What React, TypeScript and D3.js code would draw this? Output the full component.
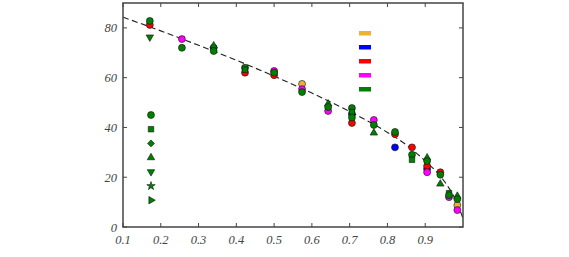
import * as d3 from "d3";

const xTicks = [0.1, 0.2, 0.3, 0.4, 0.5, 0.6, 0.7, 0.8, 0.9];
const yTicks = [0, 20, 40, 60, 80];

// dashed reference curve
const curve: [number, number][] = [
  [0.1, 84.3], [0.2, 78.8], [0.3, 73], [0.4, 67], [0.5, 60.6], [0.6, 53.8],
  [0.7, 46.4], [0.8, 38], [0.85, 33], [0.9, 26.5], [0.95, 18.5], [0.98, 11], [1.0, 3.5],
];

// [x, y, marker]  marker: 0 circle, 1 square, 2 diamond, 3 tri up, 4 tri down, 5 star, 6 tri right
const orangePts: [number, number, number][] = [
  [0.574, 57.5], [0.985, 8.8],
].map(([x, y]) => [x, y, 0]);
const bluePts: [number, number, number][] = [
  [0.34, 72], [0.706, 45.4], [0.82, 32], [0.905, 23.3],
].map(([x, y]) => [x, y, 0]);
const redPts: [number, number, number][] = [
  [0.171, 81.2], [0.423, 62], [0.5, 61], [0.706, 41.8], [0.82, 37.3],
  [0.865, 32], [0.905, 24.5], [0.94, 22],
].map(([x, y]) => [x, y, 0]);
const magentaPts: [number, number, number][] = [
  [0.256, 75.5], [0.5, 62.7], [0.574, 55.4], [0.643, 46.6], [0.764, 43],
  [0.905, 22], [0.963, 12], [0.985, 6.8],
].map(([x, y]) => [x, y, 0]);
const greenPts: [number, number, number][] = [
  [0.171, 82.8, 0], [0.171, 76.3, 4], [0.256, 72, 0], [0.34, 72.8, 3], [0.34, 70.7, 0],
  [0.423, 64, 0], [0.423, 63.2, 1], [0.5, 62, 0], [0.574, 54.2, 0],
  [0.643, 49.5, 3], [0.643, 48.2, 0], [0.706, 47.8, 0], [0.706, 46.2, 1], [0.706, 44, 0],
  [0.764, 41, 0], [0.764, 37.8, 3], [0.82, 38.2, 0], [0.865, 29, 0], [0.865, 27, 1],
  [0.905, 27.8, 3], [0.905, 26.5, 0], [0.94, 21, 0], [0.94, 17.3, 3],
  [0.963, 13.6, 1], [0.963, 12.8, 0], [0.985, 12.4, 3], [0.985, 11.2, 0],
];

const seriesColors = ["#f0b030", "#0000ff", "#ff0000", "#ff00ff", "#008000"];
const seriesPts = [orangePts, bluePts, redPts, magentaPts, greenPts];
const markerLegend = [0, 1, 2, 3, 4, 5, 6];

const W = 569, H = 257;
const m = { left: 123, right: 106, top: 3, bottom: 30 };

const symbolPath = (k: number) => {
  const types = [d3.symbolCircle, d3.symbolSquare, d3.symbolSquare, d3.symbolTriangle,
    d3.symbolTriangle, d3.symbolStar, d3.symbolTriangle];
  const sizes = [38, 30, 24, 24, 24, 22, 24];
  return d3.symbol(types[k], sizes[k])() as string;
};
const symbolRot = (k: number) => (k === 2 ? 45 : k === 4 ? 180 : k === 6 ? 90 : 0);

export default function App() {
  const x = d3.scaleLinear().domain([0.1, 1.0]).range([m.left, W - m.right]);
  const y = d3.scaleLinear().domain([0, 90]).range([H - m.bottom, m.top]);
  const line = d3.line<[number, number]>().x((d) => x(d[0])).y((d) => y(d[1])).curve(d3.curveMonotoneX);
  const font = "'Liberation Serif', 'DejaVu Serif', serif";

  return (
    <svg width={W} height={H} style={{ position: "absolute", left: 0, top: 0, background: "#fff" }}>
      <defs>
        <clipPath id="plot">
          <rect x={x(0.1)} y={y(90)} width={x(1) - x(0.1)} height={y(0) - y(90)} />
        </clipPath>
      </defs>
      <path d={line(curve) as string} fill="none" stroke="#222" strokeWidth={1.1}
        strokeDasharray="6,3.5" clipPath="url(#plot)" />
      {seriesPts.map((pts, si) =>
        pts.map((p, i) => (
          <path key={`${si}-${i}`} d={symbolPath(p[2])}
            transform={`translate(${x(p[0])},${y(p[1])}) rotate(${symbolRot(p[2])})`}
            fill={seriesColors[si]} stroke="#111" strokeWidth={0.6} />
        ))
      )}
      {/* marker legend */}
      {markerLegend.map((k, i) => (
        <path key={`ml${k}`} d={symbolPath(k)}
          transform={`translate(151,${115 + i * 14.2}) rotate(${symbolRot(k)})`}
          fill="#008000" stroke="#111" strokeWidth={0.6} />
      ))}
      {/* colour legend */}
      {seriesColors.map((c, i) => (
        <rect key={c} x={359} y={31 + i * 14} width={12} height={4.5} fill={c} />
      ))}
      {/* frame */}
      <rect x={x(0.1)} y={y(90)} width={x(1) - x(0.1)} height={y(0) - y(90)}
        fill="none" stroke="#444" strokeWidth={1.5} />
      {xTicks.map((t) => (
        <g key={`x${t}`}>
          <line x1={x(t)} x2={x(t)} y1={y(0)} y2={y(0) - 4} stroke="#444" />
          <line x1={x(t)} x2={x(t)} y1={y(90)} y2={y(90) + 4} stroke="#444" />
          <text x={x(t)} y={y(0) + 17} textAnchor="middle" fontFamily={font}
            fontStyle="italic" fontSize={12.5} fill="#444">{t.toFixed(1)}</text>
        </g>
      ))}
      {yTicks.map((t) => (
        <g key={`y${t}`}>
          <line x1={x(0.1)} x2={x(0.1) + 4} y1={y(t)} y2={y(t)} stroke="#444" />
          <line x1={x(1)} x2={x(1) - 4} y1={y(t)} y2={y(t)} stroke="#444" />
          <text x={x(0.1) - 6} y={y(t) + 4.5} textAnchor="end" fontFamily={font}
            fontStyle="italic" fontSize={12.5} fill="#444">{t}</text>
        </g>
      ))}
    </svg>
  );
}
